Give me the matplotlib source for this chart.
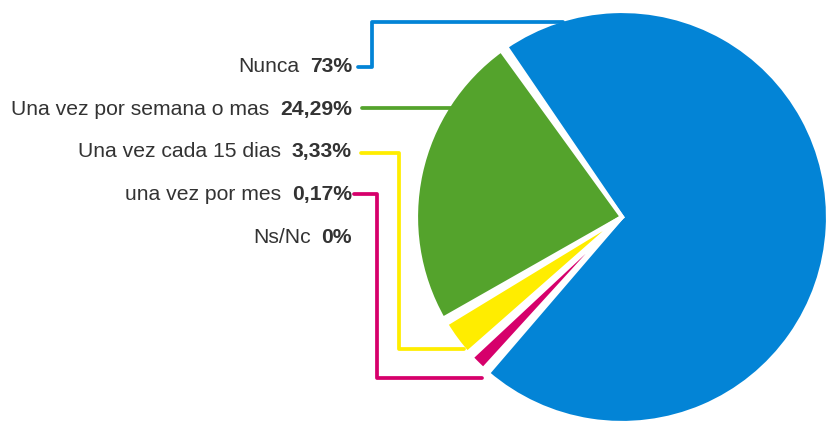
import numpy as np
import matplotlib
matplotlib.use("Agg")
import matplotlib.pyplot as plt

# ---- data ----
categories = ["Nunca", "Una vez por semana o mas", "Una vez cada 15 dias",
              "una vez por mes", "Ns/Nc"]
values = [73, 24.29, 3.33, 0.17, 0]
colors = ["#0384d6", "#54a32c", "#ffed00", "#d6006b", "#999999"]

# ---- layout (pixel coordinates, y measured from top) ----
W, H = 827, 423
CX, CY, R = 622, 217, 206
START = -131.5
MIN_SHOW = 1.8          # smallest visible share for tiny non-zero slices
PAD = 1.7               # angular padding between slices (degrees)
TEXT_RIGHT = 352
LABEL_Y = [66, 109, 151, 194, 237]
LEADERS = [
    [(358, 67), (372, 67), (372, 22), (563, 22)],
    [(362, 108), (452, 108)],
    [(361, 153), (399, 153), (399, 349), (464, 349)],
    [(354, 194), (377, 194), (377, 378), (482, 378)],
    None,
]
TXT = "#333333"
FS = 15.2


def Y(py):
    return H - py


fig = plt.figure(figsize=(W / 100, H / 100), dpi=100)
ax = fig.add_axes([0, 0, 1, 1])

shown = [(max(v, MIN_SHOW), c) for v, c in zip(values, colors) if v > 0]
wedges, _ = ax.pie([s[0] for s in shown], colors=[s[1] for s in shown],
                   startangle=START, counterclock=True,
                   center=(CX, Y(CY)), radius=R, frame=True,
                   wedgeprops=dict(edgecolor="white", linewidth=3.0,
                                   joinstyle="miter"))
for w in wedges:
    t1, t2 = w.theta1, w.theta2
    w.set_theta1(t1 + PAD / 2)
    w.set_theta2(t2 - PAD / 2)

ax.set_xlim(0, W)
ax.set_ylim(0, H)
ax.set_aspect("equal")
ax.axis("off")

# leader lines
for path, c in zip(LEADERS, colors):
    if path is None:
        continue
    xs = [p[0] for p in path]
    ys = [Y(p[1]) for p in path]
    ax.plot(xs, ys, color=c, lw=2.7, solid_capstyle="round",
            solid_joinstyle="round", zorder=5)


def fmt(v):
    s = f"{v:g}".replace(".", ",")
    return s + "%"


fig.canvas.draw()
renderer = fig.canvas.get_renderer()
for cat, v, y in zip(categories, values, LABEL_Y):
    t = ax.text(TEXT_RIGHT, Y(y), fmt(v), ha="right", va="center",
                fontsize=FS, fontweight="bold", color=TXT,
                family="Liberation Sans")
    bb = t.get_window_extent(renderer=renderer)
    ax.text(TEXT_RIGHT - bb.width - 11, Y(y), cat, ha="right", va="center",
            fontsize=FS, color=TXT, family="Liberation Sans")

fig.savefig("out.png", dpi=100)
